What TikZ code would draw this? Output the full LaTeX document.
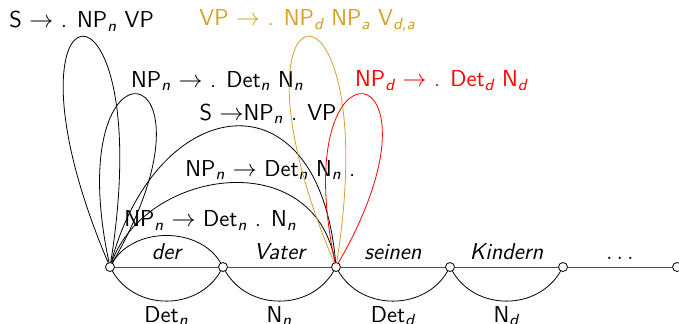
\documentclass[tikz,border=0pt]{standalone}
\usetikzlibrary{positioning}
\renewcommand{\familydefault}{\sfdefault}
\definecolor{ochre}{RGB}{212,160,40}
\newcommand{\lsub}[1]{\textsubscript{\itshape #1}}
\newcommand{\chartfont}{\fontsize{11.5}{13.5}\selectfont}
\tikzset{
  vtx/.style={circle,draw,fill=white,inner sep=0pt,minimum size=4.5pt},
  base/.style={draw=black!70},
  word/.style={font=\chartfont\itshape,above},
  cat/.style={font=\chartfont,below,yshift=1pt},
  lbl/.style={font=\chartfont,above},
  done/.style={out=-60,in=-120,distance=23pt},
  act/.style={out=60,in=120,distance=21pt},
  tallloop/.style={out=113,in=81,distance=158pt},
  shortloop/.style={out=102,in=60,distance=122pt}
}

\begin{document}
\begin{tikzpicture}[x=0.5pt,y=0.5pt]
  \useasboundingbox (0,-56) rectangle (679,267);
  % chart vertices
  \node[vtx] (v0) at (110,0) {};
  \node[vtx] (v1) at (223,0) {};
  \node[vtx] (v2) at (336,0) {};
  \node[vtx] (v3) at (450,0) {};
  \node[vtx] (v4) at (563,0) {};
  \node[vtx] (v5) at (677,0) {};
  % words
  \draw[base] (v0) -- node[word] {der} (v1)
    -- node[word] {Vater} (v2)
    -- node[word] {seinen} (v3)
    -- node[word] {Kindern} (v4)
    -- node[word] {$\ldots$} (v5);
  % complete edges
  \draw (v0) to[done] node[cat] {Det\lsub{n}} (v1);
  \draw (v1) to[done] node[cat] {N\lsub{n}} (v2);
  \draw (v2) to[done] node[cat] {Det\lsub{d}} (v3);
  \draw (v3) to[done] node[cat] {N\lsub{d}} (v4);
  % active edges
  \draw (v0) to[act] node[lbl,xshift=22pt,yshift=-1pt] {NP\lsub{n} $\rightarrow$ Det\lsub{n} . N\lsub{n}} (v1);
  \draw (v0) to[out=70,in=100,out distance=50pt,in distance=60pt]
    node[lbl,xshift=21pt,yshift=-2pt] {NP\lsub{n} $\rightarrow$ Det\lsub{n} N\lsub{n} .} (v2);
  \draw (v0) to[out=75,in=95,out distance=87.5pt,in distance=97.5pt]
    node[lbl,xshift=17pt,yshift=-2.5pt] {S $\rightarrow$NP\lsub{n} . VP} (v2);
  \draw (v0) to[tallloop] node[lbl,yshift=-1pt] {S $\rightarrow$ . NP\lsub{n} VP} (v0);
  \draw (v0) to[shortloop] node[lbl,xshift=40pt,yshift=-2pt] {NP\lsub{n} $\rightarrow$ . Det\lsub{n} N\lsub{n}} (v0);
  \draw[ochre] (v2) to[tallloop] node[lbl,yshift=-1pt] {VP $\rightarrow$ . NP\lsub{d} NP\lsub{a} V\lsub{d,a}} (v2);
  \draw[red] (v2) to[shortloop] node[lbl,xshift=39pt,yshift=-2pt] {NP\lsub{d} $\rightarrow$ . Det\lsub{d} N\lsub{d}} (v2);
\end{tikzpicture}
\end{document}
